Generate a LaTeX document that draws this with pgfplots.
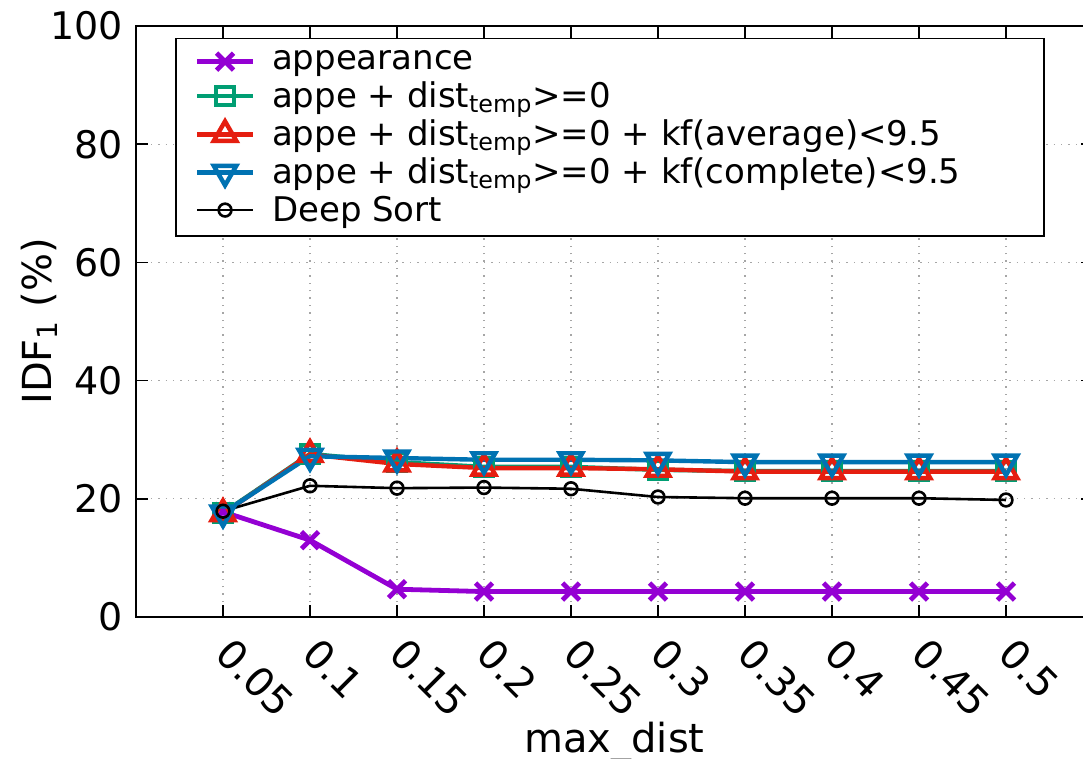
\documentclass[border=0pt]{standalone}
\usepackage{fontspec}
\setmainfont{DejaVu Sans}
\usepackage{pgfplots}
\pgfplotsset{compat=1.18}
\definecolor{gpviolet}{RGB}{148,0,211}
\definecolor{gpgreen}{RGB}{0,158,115}
\definecolor{gpred}{RGB}{229,30,16}
\definecolor{gpblue}{RGB}{0,114,178}

\begin{document}
\begin{tikzpicture}
\begin{axis}[
  name=ax,
  scale only axis,
  width=478.5pt, height=295.5pt,
  xmin=0, xmax=0.55, ymin=0, ymax=100,
  xtick={0.05,0.1,0.15,0.2,0.25,0.3,0.35,0.4,0.45,0.5},
  xticklabels={0.05,0.1,0.15,0.2,0.25,0.3,0.35,0.4,0.45,0.5},
  ytick={0,20,40,60,80,100},
  tick align=inside, major tick length=6pt,
  xtick pos=both, ytick pos=both,
  /pgf/number format/assume math mode=true,
  tick label style={font=\fontsize{19}{22}\selectfont},
  xticklabel style={font=\fontsize{20}{23}\selectfont, rotate=-45, anchor=north west, xshift=7pt, yshift=1pt},
  yticklabel style={xshift=-3pt},
  label style={font=\fontsize{20}{24}\selectfont},
  xlabel={max\_dist},
  ylabel={IDF\textsubscript{1} (\%)},
  ylabel style={yshift=-10.5pt},
  xlabel style={yshift=7pt},
  grid=major,
  major grid style={gray!70, line width=0.6pt, dash pattern=on 0.7pt off 3pt},
  axis line style={line width=0.8pt},
  every tick/.style={black, line width=0.8pt},
  legend style={at={(0.041,0.98)}, anchor=north west, draw=black, line width=0.8pt,
    font=\fontsize{17}{20}\selectfont, row sep=0.6pt,
    inner xsep=6pt, inner ysep=4pt},
  legend cell align=left,
  legend image code/.code={%
    \path[draw=none,fill=none] (-4.5pt,0pt) -- (35.5pt,0pt);
    \draw[mark repeat=2,mark phase=2] plot coordinates {(0pt,0pt) (14pt,0pt) (28pt,0pt)};},
]
\addplot[gpviolet, line width=2.4pt, mark=x, mark size=6pt] coordinates {
  (0.05,17.8) (0.1,13.0) (0.15,4.7) (0.2,4.3) (0.25,4.3) (0.3,4.3) (0.35,4.3) (0.4,4.3) (0.45,4.3) (0.5,4.3)};
\addlegendentry[text width=378pt]{appearance}
\addplot[gpgreen, line width=2.2pt, mark=square, mark size=4.5pt] coordinates {
  (0.05,17.6) (0.1,27.6) (0.15,26.2) (0.2,25.4) (0.25,25.4) (0.3,24.9) (0.35,24.7) (0.4,24.7) (0.45,24.7) (0.5,24.7)};
\addlegendentry{appe + dist\textsubscript{temp}>=0}
\addplot[gpred, line width=2.2pt, mark=triangle, mark size=6.5pt] coordinates {
  (0.05,17.5) (0.1,27.5) (0.15,25.9) (0.2,25.2) (0.25,25.2) (0.3,25.0) (0.35,24.6) (0.4,24.6) (0.45,24.6) (0.5,24.6)};
\addlegendentry{appe + dist\textsubscript{temp}>=0 + kf(average)<9.5}
\addplot[gpblue, line width=2.2pt, mark=triangle, mark options={rotate=180}, mark size=6.5pt] coordinates {
  (0.05,17.6) (0.1,27.2) (0.15,26.9) (0.2,26.6) (0.25,26.6) (0.3,26.5) (0.35,26.2) (0.4,26.2) (0.45,26.2) (0.5,26.2)};
\addlegendentry{appe + dist\textsubscript{temp}>=0 + kf(complete)<9.5}
\addplot[black, line width=1.3pt, mark=o, mark size=3.2pt] coordinates {
  (0.05,17.9) (0.1,22.2) (0.15,21.8) (0.2,21.9) (0.25,21.7) (0.3,20.3) (0.35,20.1) (0.4,20.1) (0.45,20.1) (0.5,19.8)};
\addlegendentry{Deep Sort}
\end{axis}
\pgfresetboundingbox
\path[use as bounding box] (ax.south west) ++(-68pt,-71pt) rectangle ++(541.5pt,379.5pt);
\end{tikzpicture}
\end{document}
